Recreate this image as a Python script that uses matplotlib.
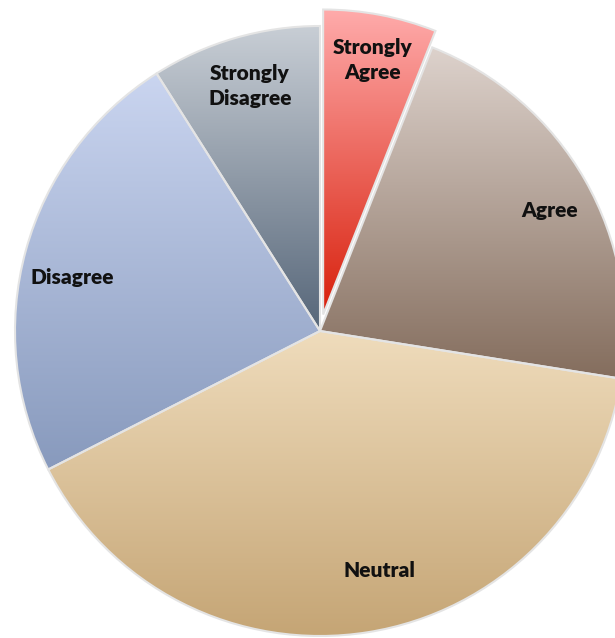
import numpy as np
import matplotlib
matplotlib.use("Agg")
import matplotlib.pyplot as plt
from matplotlib.colors import LinearSegmentedColormap

labels = ["Strongly\nAgree", "Agree", "Neutral", "Disagree", "Strongly\nDisagree"]
values = [6, 21.5, 40, 23.5, 9]
explode = [0.055, 0, 0, 0, 0]
# (top colour, bottom colour) of each slice's vertical gradient
grads = [("#ffabab", "#d8200c"),
         ("#ddd2cc", "#846d5d"),
         ("#efdcbc", "#c5a575"),
         ("#cad5f0", "#889abd"),
         ("#c8ced5", "#566679")]

W, H = 615, 638
R = 305.0
cx, cy = 320, 331

fig = plt.figure(figsize=(W / 100, H / 100), dpi=100)
ax = fig.add_axes([0, 0, 1, 1])

wedges, _ = ax.pie(values, explode=explode, startangle=90,
                   counterclock=False,
                   wedgeprops=dict(edgecolor="#e4e4e4", linewidth=1.5))

ax.set_xlim(-cx / R, (W - cx) / R)
ax.set_ylim(-(H - cy) / R, cy / R)
ax.set_aspect("equal")
ax.axis("off")

grad = np.linspace(0, 1, 256).reshape(-1, 1)
for w, (top, bot) in zip(wedges, grads):
    path = w.get_path().transformed(w.get_patch_transform())
    bb = path.get_extents()
    cmap = LinearSegmentedColormap.from_list("g", [top, bot])
    w.set_facecolor("none")
    im = ax.imshow(grad, cmap=cmap, aspect="auto", origin="upper",
                   extent=[bb.x0, bb.x1, bb.y0, bb.y1], zorder=0.5)
    im.set_clip_path(w)

# label anchors (radius, angle clockwise from 12 o'clock)
label_r = [0.905, 0.85, 0.81, 0.83, 0.835]
label_ang = [11, 62.3, 166, 282.3, 344]
for lab, r, a in zip(labels, label_r, label_ang):
    t = np.deg2rad(a)
    ax.text(r * np.sin(t), r * np.cos(t), lab, ha="center", va="center",
            fontsize=15, fontweight="heavy", family=["Lato", "DejaVu Sans"],
            color="#111111", linespacing=1.35, zorder=5)

fig.savefig("out.png", dpi=100, facecolor="white")
